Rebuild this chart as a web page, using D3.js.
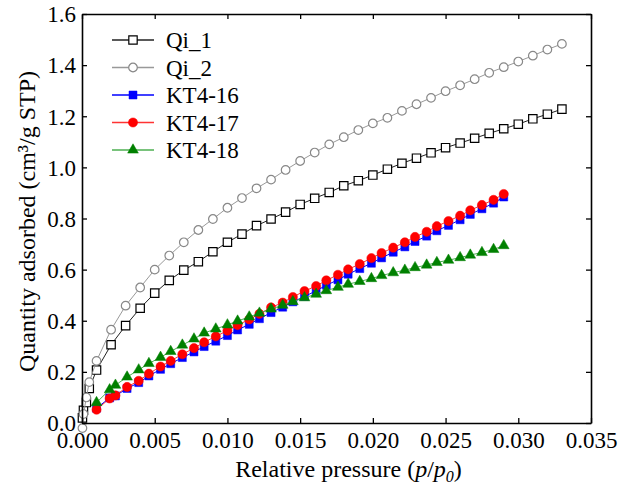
<!DOCTYPE html>
<html>
<head>
<meta charset="utf-8">
<script src="https://cdn.jsdelivr.net/npm/d3@7"></script>
<style>
  body { margin: 0; background: #fff; }
  svg { display: block; font-family: "Liberation Serif", "Times New Roman", serif; }
  svg text { font-family: "Liberation Serif", "Times New Roman", serif; }
</style>
</head>
<body>
<svg id="chart" width="623" height="489"></svg>
<script>
// Qi samples: relative pressure values
const qiX = [0.00003, 0.0001, 0.0003, 0.0005, 0.001, 0.002, 0.003, 0.004, 0.005, 0.006, 0.007,
    0.008, 0.009, 0.010, 0.011, 0.012, 0.013, 0.014, 0.015, 0.016, 0.017, 0.018, 0.019,
    0.020, 0.021, 0.022, 0.023, 0.024, 0.025, 0.026, 0.027, 0.028, 0.029, 0.030, 0.031,
    0.032, 0.033];
const qi1 = [0.02, 0.05, 0.08, 0.135, 0.207, 0.306, 0.381, 0.449, 0.508, 0.558, 0.598,
    0.631, 0.670, 0.707, 0.739, 0.772, 0.798, 0.825, 0.855, 0.879, 0.902, 0.928, 0.948,
    0.970, 0.993, 1.016, 1.036, 1.057, 1.077, 1.095, 1.114, 1.133, 1.151, 1.169, 1.190,
    1.208, 1.228];
const qi2 = [-0.02, 0.035, 0.100, 0.160, 0.243, 0.365, 0.459, 0.530, 0.600, 0.655, 0.707,
    0.755, 0.798, 0.842, 0.880, 0.918, 0.952, 0.990, 1.025, 1.058, 1.090, 1.118, 1.146,
    1.172, 1.194, 1.221, 1.247, 1.272, 1.298, 1.321, 1.345, 1.370, 1.392, 1.414, 1.437,
    1.461, 1.483];

// KT samples: relative pressure values
const ktX = [0.0010, 0.0019, 0.0023, 0.0031, 0.0039, 0.0046, 0.0054, 0.0061, 0.0069, 0.0077,
    0.0084, 0.0092, 0.0100, 0.0107, 0.0115, 0.0122, 0.0130, 0.0138, 0.0145, 0.0153,
    0.0161, 0.0168, 0.0176, 0.0183, 0.0191, 0.0199, 0.0206, 0.0214, 0.0222, 0.0229,
    0.0237, 0.0244, 0.0252, 0.0260, 0.0267, 0.0275, 0.0283, 0.0290];
const kt16 = [0.058, 0.098, 0.106, 0.135, 0.158, 0.184, 0.210, 0.232, 0.256, 0.278,
    0.299, 0.320, 0.342, 0.364, 0.386, 0.408, 0.432, 0.453, 0.474, 0.495,
    0.517, 0.539, 0.560, 0.582, 0.604, 0.625, 0.646, 0.668, 0.689, 0.710,
    0.731, 0.752, 0.773, 0.795, 0.816, 0.838, 0.860, 0.884];
const kt17 = [0.052, 0.096, 0.108, 0.141, 0.165, 0.193, 0.221, 0.243, 0.269, 0.293,
    0.316, 0.339, 0.361, 0.383, 0.405, 0.427, 0.452, 0.471, 0.493, 0.516,
    0.536, 0.558, 0.580, 0.601, 0.622, 0.645, 0.665, 0.686, 0.707, 0.728,
    0.748, 0.770, 0.790, 0.811, 0.832, 0.853, 0.873, 0.896];
const kt18 = [0.080, 0.130, 0.148, 0.180, 0.208, 0.233, 0.257, 0.280, 0.305, 0.329,
    0.352, 0.368, 0.384, 0.399, 0.415, 0.430, 0.446, 0.461, 0.475, 0.490,
    0.504, 0.518, 0.531, 0.543, 0.554, 0.565, 0.577, 0.588, 0.598, 0.608,
    0.618, 0.628, 0.637, 0.647, 0.657, 0.667, 0.679, 0.694];

const xTicks = [0, 0.005, 0.010, 0.015, 0.020, 0.025, 0.030, 0.035];
const yTicks = [0, 0.2, 0.4, 0.6, 0.8, 1.0, 1.2, 1.4, 1.6];

const series = [
    { name: "Qi_1", x: qiX, y: qi1, shape: "square", fill: "#fff", stroke: "#000", line: "#222" },
    { name: "Qi_2", x: qiX, y: qi2, shape: "circle", fill: "#fff", stroke: "#888", line: "#999" },
    { name: "KT4-16", x: ktX, y: kt16, shape: "square", fill: "#0000ff", stroke: "#0000ff", line: "#0000ff" },
    { name: "KT4-17", x: ktX, y: kt17, shape: "circle", fill: "#ff0000", stroke: "#ff0000", line: "#ff3333" },
    { name: "KT4-18", x: ktX, y: kt18, shape: "triangle", fill: "#008000", stroke: "#008000", line: "#4caf50" }
];

const margin = { top: 14, right: 32, bottom: 66, left: 82 };
const width = 623 - margin.left - margin.right;
const height = 489 - margin.top - margin.bottom;

const svg = d3.select("#chart");
const g = svg.append("g").attr("transform", `translate(${margin.left},${margin.top})`);

const x = d3.scaleLinear().domain([0, 0.035]).range([0, width]);
const y = d3.scaleLinear().domain([0, 1.6]).range([height, 0]);

function markerPath(shape, filled) {
    if (shape === "square") return d3.symbol(d3.symbolSquare, filled ? 64 : 70)();
    if (shape === "circle") return d3.symbol(d3.symbolCircle, filled ? 66 : 58)();
    return d3.symbol(d3.symbolTriangle, 50)();
}

const line = d3.line().x(d => x(d[0])).y(d => y(d[1]));

series.forEach(s => {
    const pts = s.x.map((v, i) => [v, s.y[i]]);
    const filled = s.fill !== "#fff";
    g.append("path")
        .attr("d", line(pts))
        .attr("fill", "none")
        .attr("stroke", s.line)
        .attr("stroke-width", 1);
    g.selectAll(null)
        .data(pts)
        .enter()
        .append("path")
        .attr("d", markerPath(s.shape, filled))
        .attr("transform", d => `translate(${x(d[0])},${y(d[1])})`)
        .attr("fill", s.fill)
        .attr("stroke", s.stroke)
        .attr("stroke-width", filled ? 0.5 : 1.2);
});

// axes, ticks inside on all sides
const tickLen = 5;
const xAxis = g.append("g")
    .attr("transform", `translate(0,${height})`)
    .call(d3.axisBottom(x).tickValues(xTicks).tickFormat(d3.format(".3f")).tickSizeInner(-tickLen).tickSizeOuter(0));
const yAxis = g.append("g")
    .call(d3.axisLeft(y).tickValues(yTicks).tickFormat(d3.format(".1f")).tickSizeInner(-tickLen).tickSizeOuter(0));
const xTop = g.append("g")
    .call(d3.axisTop(x).tickValues(xTicks).tickFormat("").tickSizeInner(-tickLen).tickSizeOuter(0));
const yRight = g.append("g")
    .attr("transform", `translate(${width},0)`)
    .call(d3.axisRight(y).tickValues(yTicks).tickFormat("").tickSizeInner(-tickLen).tickSizeOuter(0));

[xAxis, yAxis, xTop, yRight].forEach(a => {
    a.attr("font-family", null);
    a.select(".domain").attr("stroke", "#000").attr("stroke-width", 1.6);
    a.selectAll(".tick line").attr("stroke", "#000").attr("stroke-width", 1.3);
    a.selectAll("text").attr("fill", "#000").style("font-size", "23px");
});
xAxis.selectAll("text").attr("y", 9);
yAxis.selectAll("text").attr("x", -6).attr("dy", "0.34em");

// axis titles
g.append("text")
    .attr("transform", `translate(${-47},${height / 2 + 3}) rotate(-90)`)
    .attr("text-anchor", "middle")
    .style("font-size", "24px")
    .text("Quantity adsorbed (cm³/g STP)");

const xt = g.append("text")
    .attr("x", width / 2 + 12)
    .attr("y", height + 54)
    .attr("text-anchor", "middle")
    .style("font-size", "24px");
xt.append("tspan").text("Relative pressure (");
xt.append("tspan").style("font-style", "italic").text("p");
xt.append("tspan").text("/");
xt.append("tspan").style("font-style", "italic").text("p");
xt.append("tspan").style("font-style", "italic").style("font-size", "16px").attr("dy", 5).text("0");
xt.append("tspan").attr("dy", -5).text(")");

// legend
const legend = g.append("g").attr("transform", "translate(30,26)");
series.forEach((s, i) => {
    const row = legend.append("g").attr("transform", `translate(0,${i * 27.5})`);
    const filled = s.fill !== "#fff";
    row.append("line")
        .attr("x1", 0).attr("x2", 42)
        .attr("stroke", s.line).attr("stroke-width", 1.5);
    row.append("path")
        .attr("d", markerPath(s.shape, filled))
        .attr("transform", "translate(21,0)")
        .attr("fill", s.fill)
        .attr("stroke", s.stroke)
        .attr("stroke-width", filled ? 0.5 : 1.2);
    row.append("text")
        .attr("x", 54).attr("y", 8)
        .style("font-size", "23px")
        .text(s.name);
});
</script>
</body>
</html>
